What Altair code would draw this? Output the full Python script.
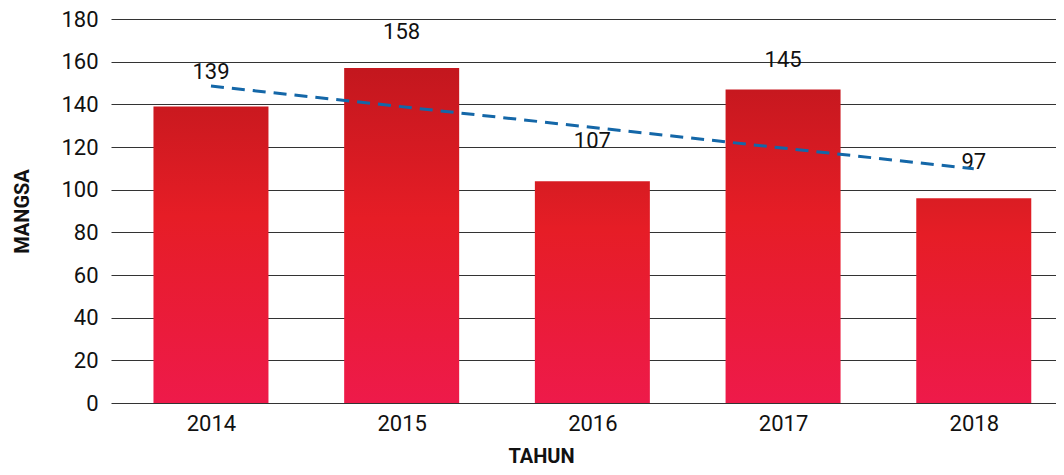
import altair as alt
import pandas as pd

years = [2014, 2015, 2016, 2017, 2018]
bar_values = [139, 157, 104, 147, 96]
labels = [139, 158, 107, 145, 97]
y_ticks = [0, 20, 40, 60, 80, 100, 120, 140, 160, 180]

df = pd.DataFrame({"year": years, "value": bar_values, "label": labels})

FONT = "Roboto"
TXT = "#111111"


def mix(c1, c2, t):
    a = [int(c1[i:i + 2], 16) for i in (1, 3, 5)]
    b = [int(c2[i:i + 2], 16) for i in (1, 3, 5)]
    return "#" + "".join(f"{round(x + (y - x) * t):02x}" for x, y in zip(a, b))


def enc_x():
    return alt.X(
        "year:Q",
        scale=alt.Scale(domain=[2013.502, 2018.405], nice=False, zero=False),
        axis=alt.Axis(
            values=years, format="d", grid=False, ticks=False, domain=False,
            labelFont=FONT, labelFontSize=22, labelColor=TXT, labelPadding=10,
            labelFlush=False, labelOverlap=False,
            title="TAHUN", titleFont=FONT, titleFontSize=20, titleFontWeight="bold",
            titleColor=TXT, titleX=430, titleY=53, titleAlign="center",
            titleBaseline="middle",
        ),
    )


def enc_y(field):
    return alt.Y(
        f"{field}:Q",
        scale=alt.Scale(domain=[0, 180], nice=False),
        axis=alt.Axis(
            values=y_ticks, grid=True, gridColor="#333333", gridWidth=1,
            ticks=False, domain=False,
            labelFont=FONT, labelFontSize=22, labelColor=TXT, labelPadding=13,
            labelFlush=False, labelOverlap=False,
            title="MANGSA", titleFont=FONT, titleFontSize=20, titleFontWeight="bold",
            titleColor=TXT, titleX=-89, titleY=192, titleAngle=-90,
            titleAlign="center", titleBaseline="middle",
        ),
    )


base = alt.Chart(df)
layers = []
vmin, vmax = min(bar_values), max(bar_values)
for yr, v in zip(years, bar_values):
    t = (v - vmin) / (vmax - vmin)
    top = mix("#DA1D23", "#C3171E", t)
    mid = 0.18 + 0.27 * t
    grad = alt.Gradient(
        gradient="linear", x1=0, y1=0, x2=0, y2=1,
        stops=[
            alt.GradientStop(color=top, offset=0),
            alt.GradientStop(color="#E61D26", offset=mid),
            alt.GradientStop(color="#EE1A4A", offset=1),
        ],
    )
    layers.append(
        base.transform_filter(alt.datum.year == yr)
        .mark_bar(width=115, fill=grad)
        .encode(x=enc_x(), y=enc_y("value"))
    )

text = base.mark_text(
    font=FONT, fontSize=22, color=TXT, dy=-34, baseline="middle", align="center"
).encode(x=enc_x(), y=enc_y("label"), text="label:Q")

trend = (
    base.transform_regression("year", "label")
    .mark_line(color="#1467A8", strokeWidth=3, strokeDash=[13, 8])
    .encode(x=enc_x(), y=enc_y("label"))
)

chart = (
    alt.layer(*layers, text, trend)
    .properties(
        width=945,
        height=384,
        autosize=alt.AutoSizeParams(type="none"),
        padding={"left": 103, "top": 11, "right": 0, "bottom": 64},
        background="white",
    )
    .configure_view(stroke=None)
)

chart.save("out.html", embed_options={"renderer": "svg", "actions": False})
